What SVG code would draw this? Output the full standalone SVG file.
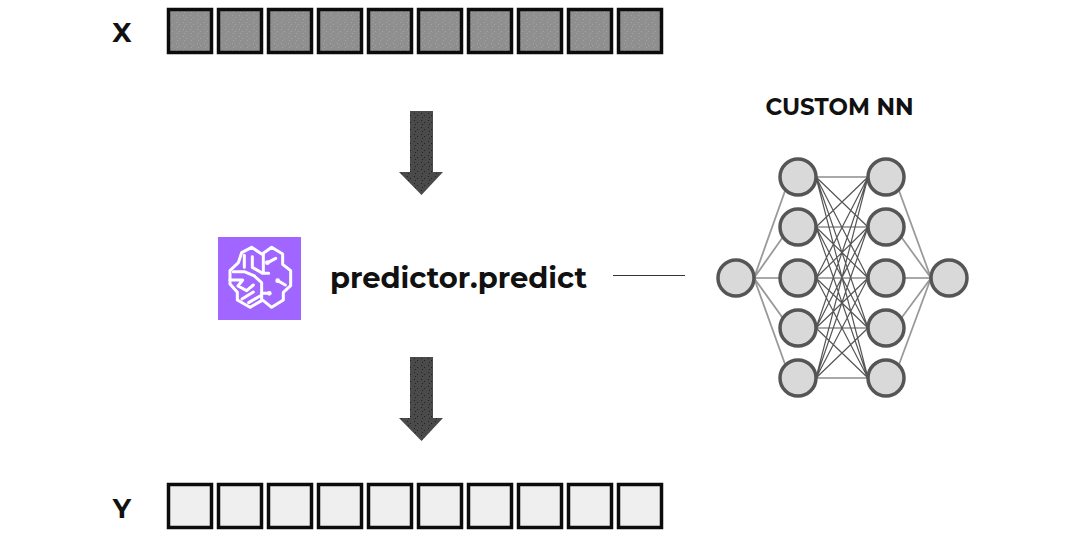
<svg xmlns="http://www.w3.org/2000/svg" width="1080" height="538" viewBox="0 0 1080 538">
<defs>
<pattern id="lightdots" width="7" height="7" patternUnits="userSpaceOnUse">
<rect width="7" height="7" fill="#8f8f8f"/>
<rect x="1" y="1" width="1" height="1" fill="#a4a4a4"/><rect x="4" y="3" width="1" height="1" fill="#a4a4a4"/><rect x="2" y="5" width="1" height="1" fill="#a4a4a4"/>
</pattern>
<pattern id="darkdots" width="7" height="7" patternUnits="userSpaceOnUse">
<rect width="7" height="7" fill="#4a4a4a"/>
<rect x="1" y="1" width="1" height="1" fill="#222"/><rect x="4" y="3" width="1" height="1" fill="#222"/><rect x="2" y="5" width="1" height="1" fill="#222"/>
</pattern>
</defs>
<style>
text{font-family:Montserrat,"Open Sans","Liberation Sans",sans-serif;font-weight:700;fill:#111}
.a{fill:url(#lightdots);stroke:#0c0c0c;stroke-width:3.500}
.b{fill:#efefef;stroke:#0c0c0c;stroke-width:3.500}
.n{fill:#d9d9d9;stroke:#555;stroke-width:3.500}
.e{stroke:#555;stroke-width:1.200;fill:none}
.g{stroke:#9a9a9a;stroke-width:1.800;fill:none}
.ar{fill:url(#darkdots)}
.i{fill:none;stroke:#fff;stroke-width:9;stroke-linejoin:round;stroke-linecap:round}
</style>
<rect width="1080" height="538" fill="#fff"/>
<text id="label-x" x="122" y="42" font-size="27" text-anchor="middle">X</text>
<text id="label-y" x="122" y="518" font-size="27" text-anchor="middle">Y</text>
<g id="input-array">
<rect class="a" x="168.500" y="9.500" width="43" height="43"/><rect class="a" x="218.500" y="9.500" width="43" height="43"/><rect class="a" x="268.500" y="9.500" width="43" height="43"/><rect class="a" x="318.500" y="9.500" width="43" height="43"/><rect class="a" x="368.500" y="9.500" width="43" height="43"/><rect class="a" x="418.500" y="9.500" width="43" height="43"/><rect class="a" x="468.500" y="9.500" width="43" height="43"/><rect class="a" x="518.500" y="9.500" width="43" height="43"/><rect class="a" x="568.500" y="9.500" width="43" height="43"/><rect class="a" x="618.500" y="9.500" width="43" height="43"/>
</g>
<g id="output-array">
<rect class="b" x="168.500" y="484.500" width="43" height="43"/><rect class="b" x="218.500" y="484.500" width="43" height="43"/><rect class="b" x="268.500" y="484.500" width="43" height="43"/><rect class="b" x="318.500" y="484.500" width="43" height="43"/><rect class="b" x="368.500" y="484.500" width="43" height="43"/><rect class="b" x="418.500" y="484.500" width="43" height="43"/><rect class="b" x="468.500" y="484.500" width="43" height="43"/><rect class="b" x="518.500" y="484.500" width="43" height="43"/><rect class="b" x="568.500" y="484.500" width="43" height="43"/><rect class="b" x="618.500" y="484.500" width="43" height="43"/>
</g>
<g id="arrows">
<path class="ar" d="M410 111H433V172H443L421.500 195L399 172H410Z"/>
<path class="ar" d="M410 357H433V418H443L421.500 441L399 418H410Z"/>
</g>
<g id="icon">
<rect x="218" y="237" width="83" height="83" fill="#a166ff"/>
<g transform="translate(210 230) scale(.3333)">
<path class="i" d="M155 72L125 52L95 68L85 98L60 122V162L82 187V210L120 232L155 212V158L133 138"/>
<path class="i" d="M160 70L185 52L218 72V103L242 122V167L220 187V210L185 232L160 212"/>
<path class="i" d="M103 76V112M127 80V112L158 130H176M70 125H103L133 138M160 70V130M175 97L197 85M203 152L226 165M60 150H98L84 168L110 182L130 165M96 207L130 186M116 218L150 198M155 190H178"/>
<circle cx="172" cy="98" r="7" fill="#fff"/><circle cx="203" cy="152" r="7" fill="#fff"/><circle cx="178" cy="190" r="7" fill="#fff"/>
</g>
</g>
<text id="predict-label" x="458.500" y="288" font-size="29" text-anchor="middle">predictor.predict</text>
<text id="nn-title" x="839.500" y="115" font-size="23" text-anchor="middle">CUSTOM NN</text>
<g id="connectors">
<path d="M613 275.500H685" stroke="#333" stroke-width="1" fill="none"/>
<path class="g" d="M754 278L790 177M754 278L790 227M754 278L790 328M754 278L790 378M894 177L931 278M894 227L931 278M894 328L931 278M894 378L931 278"/>
<path class="e" d="M754 278H780M904 278H931"/>
<path class="e" d="M816 177H868M816 177L868 227M816 177L868 278M816 177L868 328M816 177L868 378M816 227L868 177M816 227H868M816 227L868 278M816 227L868 328M816 227L868 378M816 278L868 177M816 278L868 227M816 278H868M816 278L868 328M816 278L868 378M816 328L868 177M816 328L868 227M816 328L868 278M816 328H868M816 328L868 378M816 378L868 177M816 378L868 227M816 378L868 278M816 378L868 328M816 378H868"/>
</g>
<g id="nn-in"><circle class="n" cx="736" cy="278" r="18"/></g>
<g id="nn-h1"><circle class="n" cx="798" cy="177" r="18"/><circle class="n" cx="798" cy="227" r="18"/><circle class="n" cx="798" cy="278" r="18"/><circle class="n" cx="798" cy="328" r="18"/><circle class="n" cx="798" cy="378" r="18"/></g>
<g id="nn-h2"><circle class="n" cx="886" cy="177" r="18"/><circle class="n" cx="886" cy="227" r="18"/><circle class="n" cx="886" cy="278" r="18"/><circle class="n" cx="886" cy="328" r="18"/><circle class="n" cx="886" cy="378" r="18"/></g>
<g id="nn-out"><circle class="n" cx="949" cy="278" r="18"/></g>
</svg>
